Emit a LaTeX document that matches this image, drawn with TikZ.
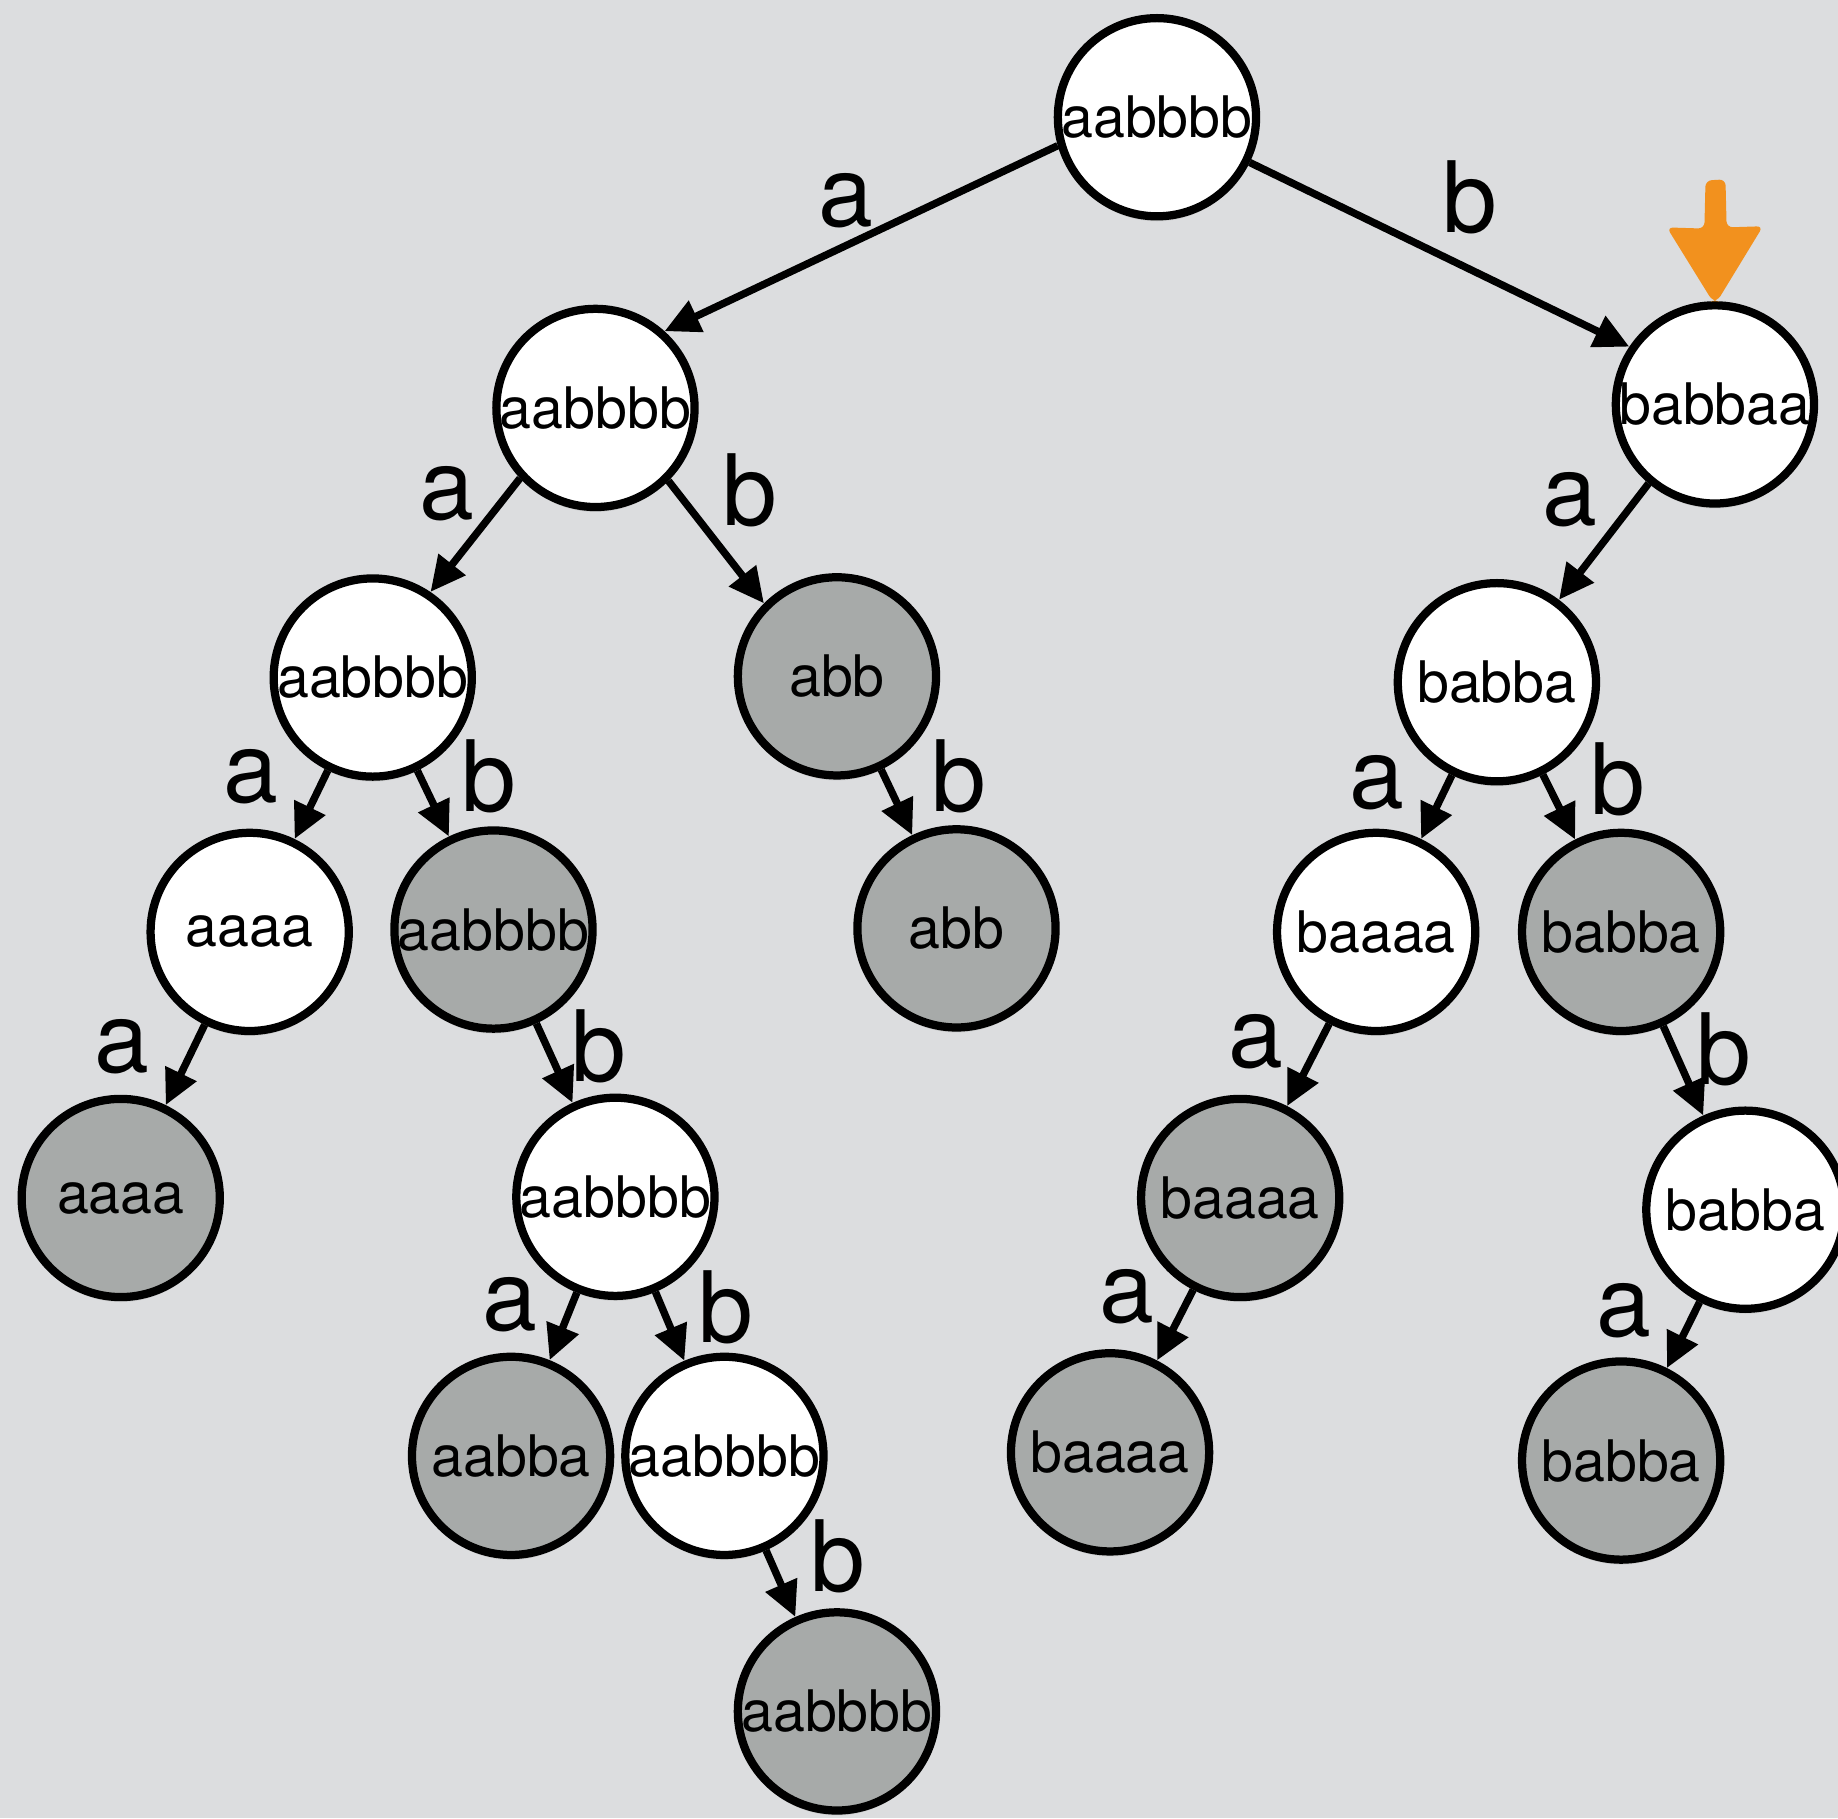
\documentclass[tikz,border=0pt]{standalone}
\usepackage{fontspec}
\setmainfont{TeX Gyre Heros}
\usetikzlibrary{arrows.meta,shadows}
\definecolor{bg}{RGB}{220,221,223}
\definecolor{grayfill}{RGB}{167,170,169}
\definecolor{orng}{RGB}{242,145,30}
\tikzset{
  st/.style={circle, draw=black, line width=2pt, minimum size=1.69cm, inner sep=0pt,
    font=\fontsize{13.9pt}{15pt}\selectfont,
    drop shadow={shadow xshift=0pt, shadow yshift=-1.2pt, opacity=0.18}},
  wst/.style={st, fill=white},
  gst/.style={st, fill=grayfill},
  lab/.style={inner sep=0pt, font=\fontsize{23.9pt}{26pt}\selectfont},
  edg/.style={line width=1.8pt, -{Triangle[length=8.5pt,width=8pt]}}
}
\begin{document}
\begin{tikzpicture}[x=0.01cm,y=-0.01cm]
\fill[bg] (0,0) rectangle (1568,1551);
\useasboundingbox (0,0) rectangle (1568,1551);
% nodes
\node[wst] (root)   at (987,100)  {aabbbb};
\node[wst] (L)      at (508,348)  {aabbbb};
\node[wst] (R)      at (1463,345) {babbaa};
\node[wst] (LL)     at (318,578)  {aabbbb};
\node[gst] (LR)     at (714,577)  {abb};
\node[gst] (LRb)    at (816,792)  {abb};
\node[wst] (LLL)    at (213,795)  {aaaa};
\node[gst] (LLLa)   at (103,1022) {aaaa};
\node[gst] (LLR)    at (421,793)  {aabbbb};
\node[wst] (LLRb)   at (525,1021) {aabbbb};
\node[gst] (LLRba)  at (436,1242) {aabba};
\node[wst] (LLRbb)  at (618,1242) {aabbbb};
\node[gst] (LLRbbb) at (714,1460) {aabbbb};
\node[wst] (Ra)     at (1277,582) {babba};
\node[wst] (Raa)    at (1174,795) {baaaa};
\node[gst] (Raaa)   at (1058,1022) {baaaa};
\node[gst] (Raaaa)  at (947,1239) {baaaa};
\node[gst] (Rab)    at (1383,795) {babba};
\node[wst] (Rabb)   at (1489,1032) {babba};
\node[gst] (Rabba)  at (1383,1246) {babba};
% edges
\draw[edg] (root.196) -- (L.48);
\draw[edg] (root.-26) -- (R.146);
\draw[edg] (L.223) -- (LL.56);
\draw[edg] (L.315) -- (LR.135);
\draw[edg] (LR) -- (LRb);
\draw[edg] (LL) -- (LLL);
\draw[edg] (LL) -- (LLR);
\draw[edg] (LLL) -- (LLLa);
\draw[edg] (LLR) -- (LLRb);
\draw[edg] (LLRb) -- (LLRba);
\draw[edg] (LLRb) -- (LLRbb);
\draw[edg] (LLRbb) -- (LLRbbb);
\draw[edg] (R.230) -- (Ra.53);
\draw[edg] (Ra) -- (Raa);
\draw[edg] (Ra) -- (Rab);
\draw[edg] (Raa) -- (Raaa);
\draw[edg] (Raaa) -- (Raaaa);
\draw[edg] (Rab) -- (Rabb);
\draw[edg] (Rabb) -- (Rabba);
% edge labels
\node[lab] (l1)  at (722,171)  {a};
\node[lab] (l2)  at (1254,168) {b};
\node[lab] (l3)  at (381,421)  {a};
\node[lab] (l4)  at (640,418)  {b};
\node[lab] (l5)  at (214,663)  {a};
\node[lab] (l6)  at (417,662)  {b};
\node[lab] (l7)  at (818,662)  {b};
\node[lab] (l8)  at (104,893)  {a};
\node[lab] (l9)  at (511,893)  {b};
\node[lab] (l10) at (435,1113) {a};
\node[lab] (l11) at (619,1115) {b};
\node[lab] (l12) at (715,1328) {b};
\node[lab] (l13) at (1339,426) {a};
\node[lab] (l14) at (1175,668) {a};
\node[lab] (l15) at (1380,665) {b};
\node[lab] (l16) at (1071,889) {a};
\node[lab] (l17) at (1471,895) {b};
\node[lab] (l18) at (961,1106) {a};
\node[lab] (l19) at (1385,1118) {a};
% orange marker arrow
\fill[orng, rounded corners=1.5pt] (1455,154) -- (1472,153) -- (1473,194) -- (1504,193)
  -- (1465,257) -- (1461,257) -- (1422,194) -- (1454,195) -- cycle;
\end{tikzpicture}
\end{document}
